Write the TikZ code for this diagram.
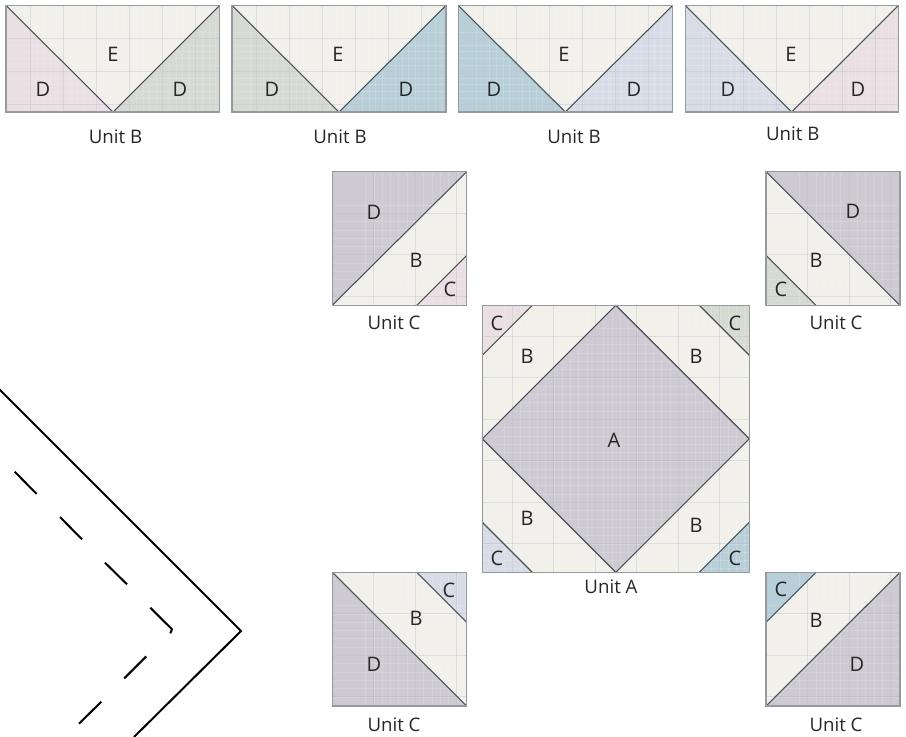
\documentclass[tikz,border=0pt]{standalone}
\usepackage{fontspec}
\setmainfont{Open Sans}
\definecolor{cream}{HTML}{F1F0EB}
\definecolor{blush}{HTML}{EADFE2}
\definecolor{sage}{HTML}{D7DAD3}
\definecolor{teal}{HTML}{B8CFD9}
\definecolor{lav}{HTML}{D8DCE6}
\definecolor{mauve}{HTML}{CDCAD2}
\definecolor{seamc}{HTML}{4A5157}
\definecolor{framec}{HTML}{959A9F}
\definecolor{gridc}{HTML}{A9AEBC}
% x, y, width, height, grid offset x, grid offset y, grid spacing
\newcommand{\quiltgrid}[7]{%
  \begin{scope}
    \clip (#1,#2) rectangle ({#1+#3},{#2+#4});
    \foreach \k in {-1,...,35} {
      \draw[gridminor] ({#1+#5+\k*#7/5},#2) -- ++(0,#4);
      \draw[gridminor] (#1,{#2+#6+\k*#7/5}) -- ++(#3,0);
    }
    \foreach \k in {0,...,6} {
      \draw[gridmajor] ({#1+#5+\k*#7},#2) -- ++(0,#4);
      \draw[gridmajor] (#1,{#2+#6+\k*#7}) -- ++(#3,0);
    }
  \end{scope}}

\begin{document}
\begin{tikzpicture}[x=0.75pt, y=-0.75pt,
  gridmajor/.style={gridc, line width=0.6pt, opacity=0.3},
  gridminor/.style={white, line width=0.4pt, opacity=0.15},
  seam/.style={seamc, line width=0.8pt},
  frame/.style={framec, line width=0.8pt},
  cut/.style={black, line width=1.5pt},
  lbl/.style={font=\fontsize{15pt}{17pt}\selectfont, text=black!85, inner sep=0pt},
  unitlbl/.style={font=\fontsize{14pt}{16pt}\selectfont, text=black!85, inner sep=0pt}]
\useasboundingbox (0,0) rectangle (906,736);

% top row, unit B
\fill[cream] (6,5.5) rectangle (219.5,112);
\fill[blush] (6,5.5) -- (113,112) -- (6,112) -- cycle;
\fill[sage] (219.5,5.5) -- (113,112) -- (219.5,112) -- cycle;
\quiltgrid{6}{5.5}{213.5}{106.5}{24.7}{33}{33}
\draw[seam] (6,5.5) -- (113,112) -- (219.5,5.5);
\draw[frame] (6,5.5) rectangle (219.5,112);
\node[lbl] (e1) at (113,54) {E};
\node[lbl] (d1) at (43,89) {D};
\node[lbl] (d2) at (180,89) {D};
\node[unitlbl] (b1) at (115.5,137) {Unit B};

\fill[cream] (232,5.5) rectangle (446,112);
\fill[sage] (232,5.5) -- (339,112) -- (232,112) -- cycle;
\fill[teal] (446,5.5) -- (339,112) -- (446,112) -- cycle;
\quiltgrid{232}{5.5}{214}{106.5}{24.7}{33}{33}
\draw[seam] (232,5.5) -- (339,112) -- (446,5.5);
\draw[frame] (232,5.5) rectangle (446,112);
\node[lbl] (e2) at (338,54) {E};
\node[lbl] (d3) at (272,89) {D};
\node[lbl] (d4) at (406,89) {D};
\node[unitlbl] (b2) at (340,137) {Unit B};

\fill[cream] (458.3,5.5) rectangle (672.7,112);
\fill[teal] (458.3,5.5) -- (565.3,112) -- (458.3,112) -- cycle;
\fill[lav] (672.7,5.5) -- (565.3,112) -- (672.7,112) -- cycle;
\quiltgrid{458.3}{5.5}{214.4}{106.5}{24.7}{33}{33}
\draw[seam] (458.3,5.5) -- (565.3,112) -- (672.7,5.5);
\draw[frame] (458.3,5.5) rectangle (672.7,112);
\node[lbl] (e3) at (564,54) {E};
\node[lbl] (d5) at (494,89) {D};
\node[lbl] (d6) at (634,89) {D};
\node[unitlbl] (b3) at (574,137) {Unit B};

\fill[cream] (685.3,5.5) rectangle (898.3,112);
\fill[lav] (685.3,5.5) -- (791.7,112) -- (685.3,112) -- cycle;
\fill[blush] (898.3,5.5) -- (791.7,112) -- (898.3,112) -- cycle;
\quiltgrid{685.3}{5.5}{213}{106.5}{24.7}{33}{33}
\draw[seam] (685.3,5.5) -- (791.7,112) -- (898.3,5.5);
\draw[frame] (685.3,5.5) rectangle (898.3,112);
\node[lbl] (e4) at (791,54) {E};
\node[lbl] (d7) at (728,89) {D};
\node[lbl] (d8) at (858,89) {D};
\node[unitlbl] (b4) at (792.7,134) {Unit B};

% unit A
\fill[cream] (482.3,305.3) rectangle (749.3,572.3);
\fill[blush] (482.3,305.3) -- (532.3,305.3) -- (482.3,355.3) -- cycle;
\fill[sage] (749.3,305.3) -- (699.3,305.3) -- (749.3,355.3) -- cycle;
\fill[lav] (482.3,572.3) -- (532.3,572.3) -- (482.3,522.3) -- cycle;
\fill[teal] (749.3,572.3) -- (699.3,572.3) -- (749.3,522.3) -- cycle;
\fill[mauve] (615.8,305.3) -- (749.3,438.8) -- (615.8,572.3) -- (482.3,438.8) -- cycle;
\quiltgrid{482.3}{305.3}{267}{267}{30}{31}{41.5}
\draw[seam] (615.8,305.3) -- (749.3,438.8) -- (615.8,572.3) -- (482.3,438.8) -- cycle;
\draw[seam] (532.3,305.3) -- (482.3,355.3);
\draw[seam] (699.3,305.3) -- (749.3,355.3);
\draw[seam] (532.3,572.3) -- (482.3,522.3);
\draw[seam] (699.3,572.3) -- (749.3,522.3);
\draw[frame] (482.3,305.3) rectangle (749.3,572.3);
\node[lbl] (c1) at (497,323) {C};
\node[lbl] (c2) at (735,323) {C};
\node[lbl] (c3) at (497,558) {C};
\node[lbl] (c4) at (735,558) {C};
\node[lbl] (p1) at (527,356) {B};
\node[lbl] (p2) at (696,356) {B};
\node[lbl] (p3) at (527,518) {B};
\node[lbl] (p4) at (696,525) {B};
\node[lbl] (a1) at (614,440) {A};
\node[unitlbl] (ua) at (611,587) {Unit A};

% corner blocks, unit C
\fill[cream] (332.3,171.7) rectangle (466.7,305.3);
\fill[mauve] (332.3,171.7) -- (466.7,171.7) -- (332.3,305.3) -- cycle;
\fill[blush] (416.7,305.3) -- (466.7,255.3) -- (466.7,305.3) -- cycle;
\quiltgrid{332.3}{171.7}{134.4}{133.6}{41.5}{41.5}{41.5}
\draw[seam] (332.3,305.3) -- (466.7,171.7);
\draw[seam] (416.7,305.3) -- (466.7,255.3);
\draw[frame] (332.3,171.7) rectangle (466.7,305.3);
\node[lbl] (d9) at (374,212) {D};
\node[lbl] (p5) at (416,260) {B};
\node[lbl] (c5) at (450,289) {C};
\node[unitlbl] (u1) at (394,323) {Unit C};

\fill[cream] (766,171.7) rectangle (900,305.3);
\fill[mauve] (766,171.7) -- (900,171.7) -- (900,305.3) -- cycle;
\fill[sage] (766,255.3) -- (816,305.3) -- (766,305.3) -- cycle;
\quiltgrid{766}{171.7}{134}{133.6}{41.5}{41.5}{41.5}
\draw[seam] (766,171.7) -- (900,305.3);
\draw[seam] (766,255.3) -- (816,305.3);
\draw[frame] (766,171.7) rectangle (900,305.3);
\node[lbl] (d10) at (853,211) {D};
\node[lbl] (p6) at (816,260) {B};
\node[lbl] (c6) at (781,289) {C};
\node[unitlbl] (u2) at (836,323) {Unit C};

\fill[cream] (332.3,572.3) rectangle (466.7,706);
\fill[mauve] (332.3,572.3) -- (466.7,706) -- (332.3,706) -- cycle;
\fill[lav] (416.7,572.3) -- (466.7,572.3) -- (466.7,622.3) -- cycle;
\quiltgrid{332.3}{572.3}{134.4}{133.7}{41.5}{41.5}{41.5}
\draw[seam] (332.3,572.3) -- (466.7,706);
\draw[seam] (416.7,572.3) -- (466.7,622.3);
\draw[frame] (332.3,572.3) rectangle (466.7,706);
\node[lbl] (c7) at (449,590) {C};
\node[lbl] (p7) at (416,618) {B};
\node[lbl] (d11) at (374,664) {D};
\node[unitlbl] (u3) at (394,725) {Unit C};

\fill[cream] (766,572.3) rectangle (900,706);
\fill[mauve] (900,572.3) -- (900,706) -- (766,706) -- cycle;
\fill[teal] (766,572.3) -- (816,572.3) -- (766,622.3) -- cycle;
\quiltgrid{766}{572.3}{134}{133.7}{41.5}{41.5}{41.5}
\draw[seam] (766,706) -- (900,572.3);
\draw[seam] (816,572.3) -- (766,622.3);
\draw[frame] (766,572.3) rectangle (900,706);
\node[lbl] (c8) at (781,589) {C};
\node[lbl] (p8) at (816,620) {B};
\node[lbl] (d12) at (857,664) {D};
\node[unitlbl] (u4) at (836,725) {Unit C};

% enlarged corner with stitching line
\draw[cut] (-2,388) -- (241,631) -- (134,737);
\draw[cut] (14.7,471.7) -- (36.7,494);
\draw[cut] (60,517) -- (82,539.3);
\draw[cut] (105,562.7) -- (127,584.3);
\draw[cut] (150.3,607.7) -- (172,629.3) -- (170.3,633.3);
\draw[cut] (146.3,656.3) -- (124.3,678.3);
\draw[cut] (101.3,701.7) -- (79,723.7);
\end{tikzpicture}
\end{document}
